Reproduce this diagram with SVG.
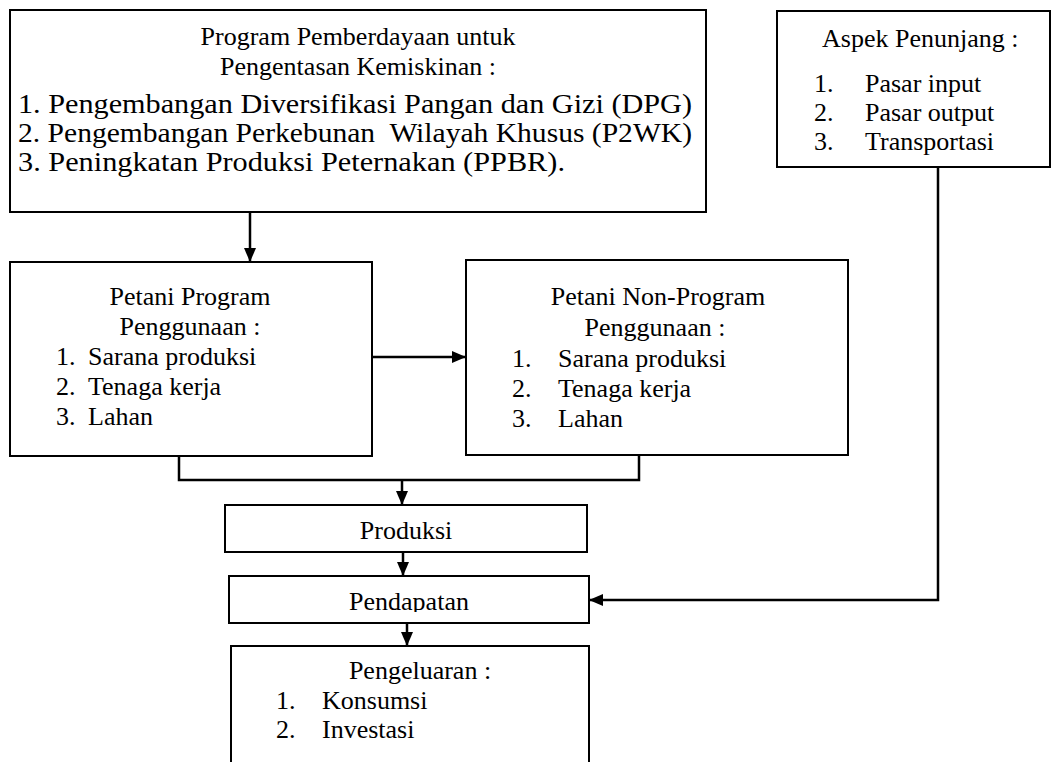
<svg xmlns="http://www.w3.org/2000/svg" width="1058" height="762" viewBox="0 0 1058 762">
<style>
text{font-family:'Liberation Serif','Times New Roman','DejaVu Serif',serif;font-size:26px;fill:#000}
.c{text-anchor:middle}
.li{font-size:28px}
.box{fill:#fff;stroke:#000;stroke-width:2}
.ln{fill:none;stroke:#000;stroke-width:2.5}
</style>
<defs>
<marker id="ah" viewBox="0 0 14 12" refX="14" refY="6" markerWidth="14" markerHeight="12" markerUnits="userSpaceOnUse" orient="auto">
<path d="M0,0 L14,6 L0,12 z" fill="#000"/>
</marker>
<clipPath id="clipPend"><rect x="229" y="576" width="360" height="36"/></clipPath>
</defs>
<rect width="1058" height="762" fill="#fff"/>
<g id="connectors">
<line class="ln" x1="250" y1="212" x2="250" y2="262" marker-end="url(#ah)"/>
<line class="ln" x1="372" y1="357" x2="466" y2="357" marker-end="url(#ah)"/>
<polyline class="ln" points="179,456 179,480 639,480 639,455"/>
<line class="ln" x1="402" y1="480" x2="402" y2="505" marker-end="url(#ah)"/>
<line class="ln" x1="403" y1="552" x2="403" y2="576" marker-end="url(#ah)"/>
<line class="ln" x1="407" y1="623" x2="407" y2="646" marker-end="url(#ah)"/>
<polyline class="ln" points="938,167 938,600 589,600" marker-end="url(#ah)"/>
</g>
<g id="program">
<rect class="box" x="10" y="10" width="696" height="202"/>
<text class="c" x="358" y="45">Program Pemberdayaan untuk</text>
<text class="c" x="358" y="75">Pengentasan Kemiskinan :</text>
<text class="li" x="18" y="113" textLength="674" lengthAdjust="spacingAndGlyphs">1. Pengembangan Diversifikasi Pangan dan Gizi (DPG)</text>
<text class="li" x="18" y="142" xml:space="preserve" textLength="674" lengthAdjust="spacingAndGlyphs">2. Pengembangan Perkebunan  Wilayah Khusus (P2WK)</text>
<text class="li" x="18" y="171" textLength="547" lengthAdjust="spacingAndGlyphs">3. Peningkatan Produksi Peternakan (PPBR).</text>
</g>
<g id="aspek">
<rect class="box" x="777" y="11" width="273" height="156"/>
<text x="822" y="47">Aspek Penunjang :</text>
<text x="814" y="92">1.</text><text x="865" y="92">Pasar input</text>
<text x="814" y="121">2.</text><text x="865" y="121">Pasar output</text>
<text x="814" y="150">3.</text><text x="865" y="150">Transportasi</text>
</g>
<g id="petani-program">
<rect class="box" x="10" y="262" width="362" height="194"/>
<text class="c" x="190" y="305">Petani Program</text>
<text class="c" x="190" y="335">Penggunaan :</text>
<text x="56" y="365">1.</text><text x="88" y="365">Sarana produksi</text>
<text x="56" y="395">2.</text><text x="88" y="395">Tenaga kerja</text>
<text x="56" y="425">3.</text><text x="88" y="425">Lahan</text>
</g>
<g id="petani-non-program">
<rect class="box" x="466" y="260" width="382" height="195"/>
<text class="c" x="658" y="305">Petani Non-Program</text>
<text class="c" x="655" y="336">Penggunaan :</text>
<text x="512" y="367">1.</text><text x="558" y="367">Sarana produksi</text>
<text x="512" y="397">2.</text><text x="558" y="397">Tenaga kerja</text>
<text x="512" y="427">3.</text><text x="558" y="427">Lahan</text>
</g>
<g id="produksi">
<rect class="box" x="225" y="505" width="362" height="47"/>
<text class="c" x="406" y="539">Produksi</text>
</g>
<g id="pendapatan">
<rect class="box" x="229" y="576" width="360" height="47"/>
<text class="c" x="409" y="610" clip-path="url(#clipPend)">Pendapatan</text>
</g>
<g id="pengeluaran">
<rect class="box" x="231" y="646" width="358" height="130"/>
<text class="c" x="420" y="679">Pengeluaran :</text>
<text x="276" y="709">1.</text><text x="322" y="709">Konsumsi</text>
<text x="276" y="738">2.</text><text x="322" y="738">Investasi</text>
</g>
</svg>
